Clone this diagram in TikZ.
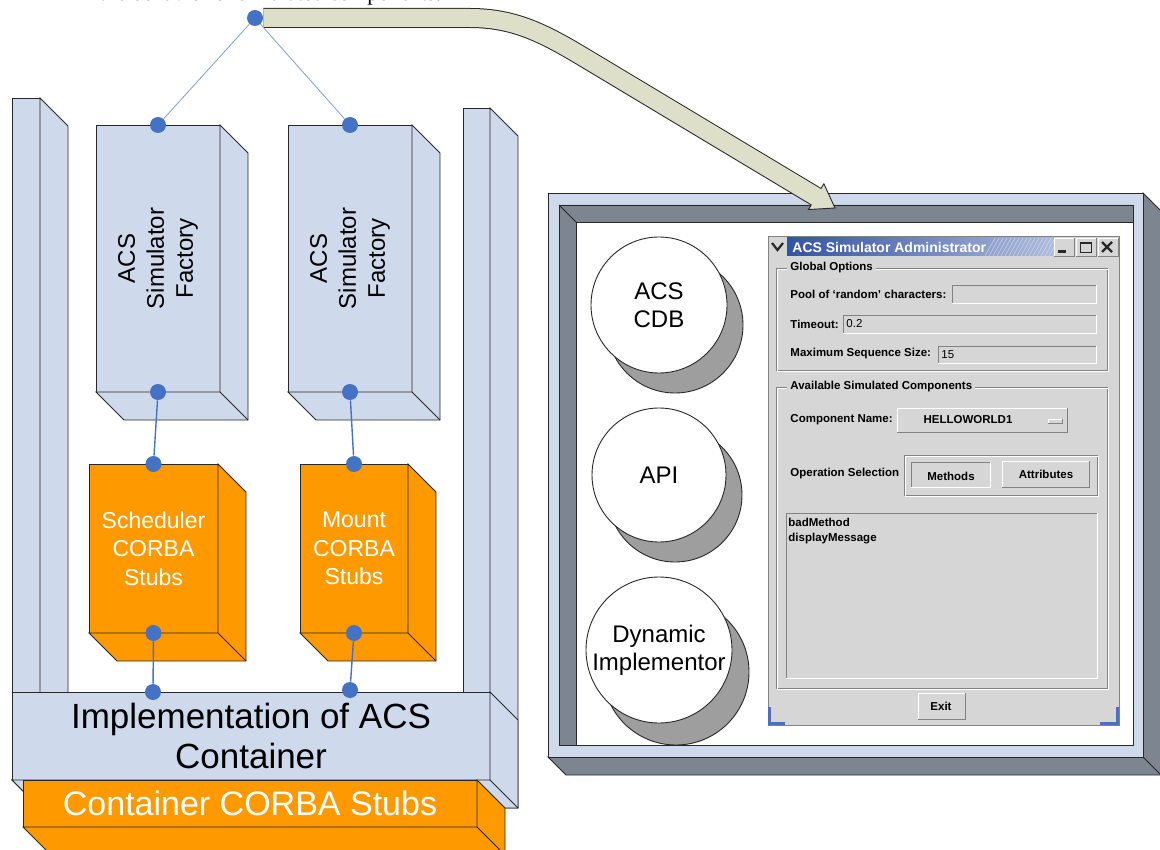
\documentclass[tikz,border=0pt]{standalone}
\usepackage{fontspec}
\setmainfont{Liberation Sans}
\newfontfamily\timesfont{Liberation Serif}
\usetikzlibrary{calc}

\definecolor{paleblue}{RGB}{206,217,235}
\definecolor{stuborange}{RGB}{255,153,0}
\definecolor{dotblue}{RGB}{68,114,196}
\definecolor{wireblue}{RGB}{140,165,212}
\definecolor{bandbeige}{RGB}{221,223,200}
\definecolor{framegray}{RGB}{125,133,145}
\definecolor{diskgray}{RGB}{158,158,158}
\definecolor{guigray}{RGB}{214,214,214}
\definecolor{guidark}{RGB}{130,130,130}
\definecolor{titleblue}{RGB}{52,82,165}
\definecolor{cornerblue}{RGB}{80,110,190}
\definecolor{edge}{RGB}{40,40,40}

\newcommand{\boxdepth}[2]{%
	\filldraw[fill=#2,draw=edge] (#1.north east) -- ++(28,28) -- ($(#1.south east)+(28,28)$) -- ($(#1.south west)+(28,28)$) -- (#1.south west) -- (#1.south east) -- cycle;
	\draw[edge] (#1.south east) -- ++(28,28);
}
\newcommand{\raised}[4]{%
	\fill[guigray] (#1,#2) rectangle (#3,#4);
	\draw[white] (#1,#4) -- (#1,#2) -- (#3,#2);
	\draw[guidark] (#3,#2) -- (#3,#4) -- (#1,#4);
}
\newcommand{\sunken}[4]{%
	\fill[guigray] (#1,#2) rectangle (#3,#4);
	\draw[guidark] (#1,#4) -- (#1,#2) -- (#3,#2);
	\draw[white] (#3,#2) -- (#3,#4) -- (#1,#4);
}
\newcommand{\etched}[4]{%
	\draw[guidark] (#1,#2) rectangle (#3,#4);
	\draw[white] (#1+1,#2+1) rectangle (#3+1,#4+1);
}

\begin{document}
\begin{tikzpicture}[x=1pt,y=-1pt,line width=0.9,
	slab/.style={draw=edge, fill=paleblue, inner sep=0, outer sep=0},
	stub/.style={draw=edge, fill=stuborange, inner sep=0, outer sep=0, text=white, align=center, font=\fontsize{23}{28.5}\selectfont},
	blob/.style={circle, fill=dotblue, minimum size=16, inner sep=0},
	wire/.style={wireblue, line width=0.9},
	link/.style={dotblue, line width=1.4},
	disk/.style={circle, draw=edge, fill=white, inner sep=0, align=center, font=\fontsize{24}{28}\selectfont},
	diskshade/.style={circle, draw=edge, fill=diskgray, inner sep=0},
	gui/.style={font=\bfseries\fontsize{11.5}{12}\selectfont, inner sep=0, anchor=west},
	]
	\useasboundingbox (0,0) rectangle (1160,850);
	\clip (0,0) rectangle (1160,850);

	\node[anchor=base east, font=\timesfont\fontsize{22}{22}\selectfont] (cap) at (445,1) {the behavior of simulated components.};

	\filldraw[fill=framegray, draw=edge] (1143,193) -- (1161,211) -- (1161,775) -- (566,775) -- (548,757) -- (1143,757) -- cycle;
	\draw[edge] (1143,757) -- (1161,775);
	\filldraw[fill=paleblue, draw=edge] (548,193) rectangle (1143,757);
	\filldraw[fill=framegray, draw=edge] (559,205) -- (1133,205) -- (1133,222) -- (576,222) -- (576,745) -- (559,745) -- cycle;
	\draw[edge] (559,205) -- (576,222);
	\filldraw[fill=white, draw=edge] (576,222) rectangle (1133,745);

	\node[diskshade, minimum size=136] (cdbs) at (675,325) {};
	\node[disk, minimum size=136] (cdb) at (659,305) {ACS\\CDB};
	\node[diskshade, minimum size=134] (apis) at (675,495) {};
	\node[disk, minimum size=134] (api) at (659,475) {API};
	\node[diskshade, minimum size=146] (dyns) at (676,672) {};
	\node[disk, minimum size=146] (dyn) at (659,650) {Dynamic\\Implementor};

	\filldraw[fill=guigray, draw=guidark] (768,236) rectangle (1119,725);
	\shade[left color=titleblue, right color=titleblue!40!white] (787,238) rectangle (1054,256);
	\begin{scope}
		\clip (985,238) rectangle (1054,256);
		\foreach \k in {0,...,20}
			\draw[white, opacity=.35] (985+\k*4,256) -- (995+\k*4,238);
	\end{scope}
	\node[gui, text=white, font=\bfseries\fontsize{14}{14}\selectfont] (title) at (792,247) {ACS Simulator Administrator};
	\draw[line width=2.2, edge] (772,243) -- (777.5,250) -- (783,243);
	\foreach \bx in {1054,1076,1098} {\raised{\bx}{238}{\bx+20}{256}}
	\fill[edge] (1058,250) rectangle (1066,253);
	\draw[edge] (1080,242) rectangle (1091,252);
	\fill[edge] (1080,242) rectangle (1091,244.5);
	\draw[line width=2.4, edge] (1102,242) -- (1112,252) (1112,242) -- (1102,252);

	\etched{776}{268}{1107}{370}
	\node[gui, fill=guigray, inner xsep=3] (glob) at (787,268) {Global Options};
	\node[gui] (pool) at (790,294) {Pool of `random' characters:};
	\sunken{952}{285}{1096}{303}
	\node[gui] (tmo) at (790,324) {Timeout:};
	\sunken{843}{315}{1096}{333}
	\node[gui, font=\fontsize{11.5}{12}\selectfont] (tmov) at (846,324) {0.2};
	\node[gui] (maxs) at (790,354) {Maximum Sequence Size:};
	\sunken{938}{346}{1096}{363}
	\node[gui, font=\fontsize{11.5}{12}\selectfont] (maxv) at (941,355) {15};

	\etched{776}{387}{1107}{688}
	\node[gui, fill=guigray, inner xsep=3] (avail) at (787,387) {Available Simulated Components};
	\node[gui] (cname) at (790,420) {Component Name:};
	\raised{897}{408}{1067}{432}
	\node[gui, anchor=center] (hello) at (968,420) {HELLOWORLD1};
	\raised{1048}{419}{1062}{423}
	\etched{904}{455}{1097}{495}
	\node[gui] (opsel) at (790,474) {Operation Selection};
	\sunken{911}{462}{990}{487}
	\node[gui, anchor=center] (meth) at (951,476) {Methods};
	\raised{1002}{461}{1089}{487}
	\node[gui, anchor=center] (attr) at (1046,474) {Attributes};
	\sunken{786}{513}{1097}{678}
	\node[gui] (bad) at (788,522) {badMethod};
	\node[gui] (disp) at (788,539) {displayMessage};
	\raised{918}{693}{965}{719}
	\node[gui, anchor=center] (exit) at (941,706) {Exit};
	\draw[line width=3, cornerblue] (769.5,707) -- (769.5,723.5) -- (785,723.5);
	\draw[line width=3, cornerblue] (1117.5,707) -- (1117.5,723.5) -- (1100,723.5);

	\node[slab, minimum width=28, minimum height=682] (lpil) at (26,439) {};
	\boxdepth{lpil}{paleblue}
	\node[slab, minimum width=27, minimum height=672] (rpil) at (476.5,444) {};
	\boxdepth{rpil}{paleblue}
	\node[slab, minimum width=478, minimum height=88, align=center, font=\fontsize{35}{40}\selectfont] (impl) at (251,736) {Implementation of ACS\\Container};
	\boxdepth{impl}{paleblue}
	\node[stub, minimum width=454, minimum height=47, font=\fontsize{34}{34}\selectfont] (cont) at (250,803.5) {Container CORBA Stubs};
	\boxdepth{cont}{stuborange}

	\node[slab, minimum width=124, minimum height=267] (fac1) at (158,258.5) {};
	\boxdepth{fac1}{paleblue}
	\node[rotate=90, align=center, font=\fontsize{24}{29}\selectfont] (fac1txt) at (fac1.center) {ACS\\Simulator\\Factory};
	\node[slab, minimum width=124, minimum height=267] (fac2) at (350,258.5) {};
	\boxdepth{fac2}{paleblue}
	\node[rotate=90, align=center, font=\fontsize{24}{29}\selectfont] (fac2txt) at (fac2.center) {ACS\\Simulator\\Factory};

	\node[stub, minimum width=129, minimum height=169] (sch) at (153.5,548.5) {Scheduler\\CORBA\\Stubs};
	\boxdepth{sch}{stuborange}
	\node[stub, minimum width=108, minimum height=169] (mnt) at (354,548.5) {Mount\\CORBA\\Stubs};
	\boxdepth{mnt}{stuborange}

	\node[blob] (hub) at (255,18) {};
	\coordinate (bend) at (585,58);
	\coordinate (tip) at (835,208);
	\coordinate (neck) at ($(tip)!22pt!(bend)$);
	\draw[line width=20, edge] (hub) -- (470,18) .. controls (515,18) and (545,34) .. (bend) -- (neck);
	\begin{scope}[shift={(tip)}, rotate=-31]
		\filldraw[fill=bandbeige, draw=edge] (0,0) -- (-22,15) -- (-22,-15) -- cycle;
	\end{scope}
	\draw[line width=18, bandbeige] (hub) -- (470,18) .. controls (515,18) and (545,34) .. (bend) -- ($(neck)!2pt!(tip)$);

	\node[blob] (f1t) at (fac1.north) {};
	\node[blob] (f1b) at (fac1.south) {};
	\node[blob] (f2t) at (fac2.north) {};
	\node[blob] (f2b) at (fac2.south) {};
	\node[blob] (s1t) at (sch.north) {};
	\node[blob] (s1b) at (sch.south) {};
	\node[blob] (s2t) at (mnt.north) {};
	\node[blob] (s2b) at (mnt.south) {};
	\node[blob] (i1) at (153,692) {};
	\node[blob] (i2) at (350,690) {};

	\draw[wire] (hub) -- (f1t);
	\draw[wire] (hub) -- (f2t);
	\draw[link] (f1b) -- (s1t);
	\draw[link] (s1b) -- (i1);
	\draw[link] (f2b) -- (s2t);
	\draw[link] (s2b) -- (i2);
\end{tikzpicture}
\end{document}
